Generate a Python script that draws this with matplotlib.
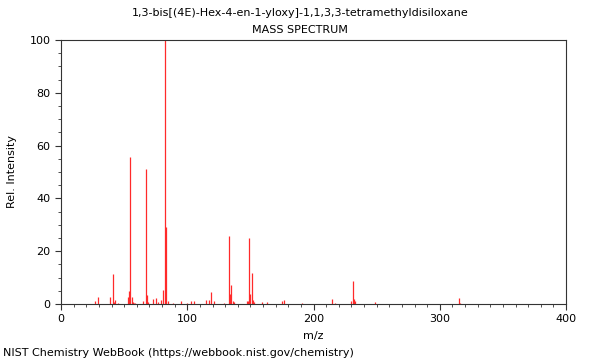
import matplotlib
matplotlib.use("Agg")
import matplotlib.pyplot as plt
from matplotlib.ticker import MultipleLocator

title = "1,3-bis[(4E)-Hex-4-en-1-yloxy]-1,1,3,3-tetramethyldisiloxane"
mz = [27, 29, 39, 41, 42, 43, 45, 53, 54, 55, 56, 57, 58, 59, 65, 67, 68, 69,
      73, 75, 77, 79, 81, 82, 83, 85, 89, 95, 100, 103, 105, 115, 117, 119, 121,
      129, 133, 134, 135, 136, 137, 147, 148, 149, 150, 151, 152, 153, 159, 163,
      175, 177, 191, 215, 217, 230, 231, 232, 233, 249, 315, 316]
intensity = [1.0, 2.7, 2.5, 11.4, 0.8, 1.5, 0.5, 2.8, 4.8, 55.8, 2.8, 0.6, 0.5, 0.5, 1.0, 51.1, 3.5, 0.9,
             1.9, 2.1, 0.6, 1.6, 5.4, 100.0, 29.0, 1.0, 0.5, 1.3, 0.5, 1.0, 1.0, 1.4, 1.6, 4.5, 1.2,
             0.5, 25.9, 3.8, 7.2, 1.0, 0.7, 1.0, 1.2, 24.9, 3.8, 11.7, 1.6, 0.9, 0.6, 0.9,
             1.0, 1.5, 0.3, 2.0, 0.4, 1.0, 8.7, 1.9, 1.2, 0.9, 2.1, 0.5]

fig = plt.figure(figsize=(6, 3.6), dpi=100)
ax = fig.add_axes([61/600, 1-304/360, (566-61)/600, (304-40)/360])
ax.vlines(mz, 0, intensity, colors="#ff2a2a", linewidth=0.9)
ax.set_xlim(0, 400)
ax.set_ylim(0, 100)
ax.xaxis.set_major_locator(MultipleLocator(100))
ax.xaxis.set_minor_locator(MultipleLocator(10))
ax.yaxis.set_major_locator(MultipleLocator(20))
ax.yaxis.set_minor_locator(MultipleLocator(5))
ax.tick_params(labelsize=8, length=4, width=0.8, colors="#333333", labelcolor="black")
ax.tick_params(which="minor", length=2.5, width=0.6, colors="#333333")
for s in ax.spines.values():
    s.set_linewidth(0.8)
    s.set_color("#333333")
ax.set_xlabel("m/z", fontsize=8, labelpad=5)
ax.set_ylabel("Rel. Intensity", fontsize=8, labelpad=9)
fig.text(0.5, 1-13/360, title, ha="center", va="center", fontsize=8)
fig.text(0.5, 1-30/360, "MASS SPECTRUM", ha="center", va="center", fontsize=8)
fig.text(3/600, 1-353/360, "NIST Chemistry WebBook (https://webbook.nist.gov/chemistry)",
         ha="left", va="center", fontsize=8)
fig.savefig("out.png", dpi=100)
